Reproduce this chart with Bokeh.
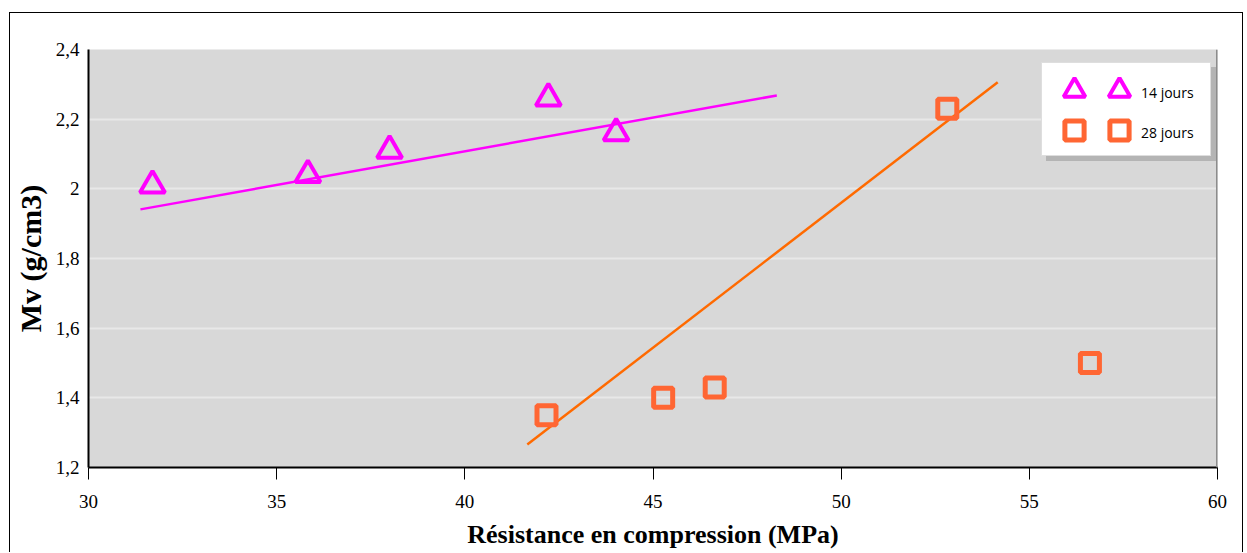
from bokeh.plotting import figure
from bokeh.models import (Legend, LegendItem, FixedTicker, CustomJSTickFormatter,
                          Span, ColumnDataSource)
from bokeh.embed import file_html
from bokeh.resources import INLINE

# ---- data ----
x_14 = [31.7, 35.83, 38.0, 42.22, 44.02]
y_14 = [2.01, 2.04, 2.11, 2.26, 2.16]
x_28 = [42.17, 45.27, 46.64, 52.82, 56.61]
y_28 = [1.35, 1.40, 1.43, 2.23, 1.50]
trend14_x = [31.38, 48.29]
trend14_y = [1.941, 2.268]
trend28_x = [41.66, 54.16]
trend28_y = [1.266, 2.306]
label_14 = "14 jours"
label_28 = "28 jours"
x_ticks = [30, 35, 40, 45, 50, 55, 60]
y_ticks = [1.2, 1.4, 1.6, 1.8, 2.0, 2.2, 2.4]

MAG = "#FF00FF"
ORG = "#FF6633"
ORG_LINE = "#FF6A00"
SERIF = "Liberation Serif"

p = figure(width=1234, height=540, output_backend="svg", toolbar_location=None,
           x_range=(30, 60), y_range=(1.2, 2.4),
           min_border_left=75, min_border_right=27, min_border_top=36, min_border_bottom=86)
p.styles = {"margin-left": "9px", "margin-top": "12px",
            "border-left": "1px solid #000", "border-top": "1px solid #000",
            "border-right": "1px solid #000"}
p.background_fill_color = "#d8d8d8"
p.border_fill_color = "white"
p.outline_line_color = None

# grid
p.xgrid.grid_line_color = None
p.ygrid.ticker = FixedTicker(ticks=y_ticks)
p.ygrid.grid_line_color = "#e8e8e8"
p.ygrid.grid_line_width = 2

# axes
xax = p.below[0]
yax = p.left[0]
xax.ticker = FixedTicker(ticks=x_ticks)
yax.ticker = FixedTicker(ticks=y_ticks)
fmt = CustomJSTickFormatter(code="""
var s = (Math.round(tick*10)/10).toString();
return s.replace('.', ',');
""")
xax.formatter = fmt
yax.formatter = fmt
for ax in (xax, yax):
    ax.axis_line_color = "black"
    ax.axis_line_width = 2
    ax.major_label_text_font = SERIF
    ax.major_label_text_font_size = "19px"
    ax.major_label_text_color = "black"
    ax.axis_label_text_font = SERIF
    ax.axis_label_text_font_style = "bold"
    ax.axis_label_text_color = "black"
    ax.minor_tick_line_color = None

xax.major_tick_out = 12
xax.major_tick_in = 0
xax.major_tick_line_color = "black"
xax.major_label_standoff = 15
xax.axis_label = "Résistance en compression (MPa)"
xax.axis_label_text_font_size = "26px"
xax.axis_label_standoff = 9
yax.major_tick_out = 0
yax.major_tick_in = 0
yax.major_label_standoff = 9
yax.axis_label = "Mv (g/cm3)"
yax.axis_label_text_font_size = "30px"
yax.axis_label_standoff = 6

# right shadow line of the plot area
p.add_layout(Span(location=60, dimension="height", line_color="#8c8c8c", line_width=3))

# trend lines
p.line(trend14_x, trend14_y, line_color=MAG, line_width=2.5)
p.line(trend28_x, trend28_y, line_color=ORG_LINE, line_width=2.5)

# points
src14 = ColumnDataSource(dict(x=x_14, y=y_14))
src28 = ColumnDataSource(dict(x=x_28, y=y_28))
r14 = p.scatter("x", "y", source=src14, marker="triangle", size=25,
                line_color=MAG, line_width=4, fill_alpha=0)
r28 = p.scatter("x", "y", source=src28, marker="square", size=19,
                line_color=ORG, line_width=5, fill_alpha=0)

# invisible renderer used for the legend box, its shadow and the labels
dummy = p.scatter(x=[], y=[], marker="square", size=1, line_alpha=0, fill_alpha=0)

box_common = dict(padding=16, spacing=20, glyph_height=20, label_height=20, margin=0,
                  glyph_width=30, label_standoff=0, label_width=106,
                  label_text_font_size="14px", border_line_width=1)
leg_shadow = Legend(items=[LegendItem(label=" ", renderers=[dummy]),
                           LegendItem(label=" ", renderers=[dummy])],
                    location=(958, 306), background_fill_color="#b4b4b4",
                    background_fill_alpha=1, border_line_color="#b4b4b4", **box_common)
leg_box = Legend(items=[LegendItem(label=" ", renderers=[dummy]),
                        LegendItem(label=" ", renderers=[dummy])],
                 location=(953, 311), background_fill_color="white",
                 background_fill_alpha=1, border_line_color="#bdbdbd", **box_common)
p.add_layout(leg_shadow)
p.add_layout(leg_box)

def marker_legend(renderer, box, loc):
    return Legend(items=[LegendItem(label=" ", renderers=[renderer])],
                  location=loc, padding=0, margin=0, glyph_width=box, glyph_height=box,
                  label_height=10, label_standoff=0, label_width=0,
                  background_fill_alpha=0, border_line_color=None,
                  label_text_font_size="10px")

p.add_layout(marker_legend(r14, 54, (959, 350)))
p.add_layout(marker_legend(r28, 48, (962, 313)))
p.add_layout(marker_legend(r14, 54, (1004, 350)))
p.add_layout(marker_legend(r28, 48, (1007, 313)))

leg_lbl = Legend(items=[LegendItem(label=label_14, renderers=[dummy]),
                        LegendItem(label=label_28, renderers=[dummy])],
                 location=(1052, 325), padding=0, margin=0, spacing=20,
                 glyph_width=1, glyph_height=20, label_height=20, label_standoff=0,
                 background_fill_alpha=0, border_line_color=None,
                 label_text_font="Open Sans", label_text_font_size="14px",
                 label_text_color="black")
p.add_layout(leg_lbl)

open("out.html", "w").write(file_html(p, INLINE))
